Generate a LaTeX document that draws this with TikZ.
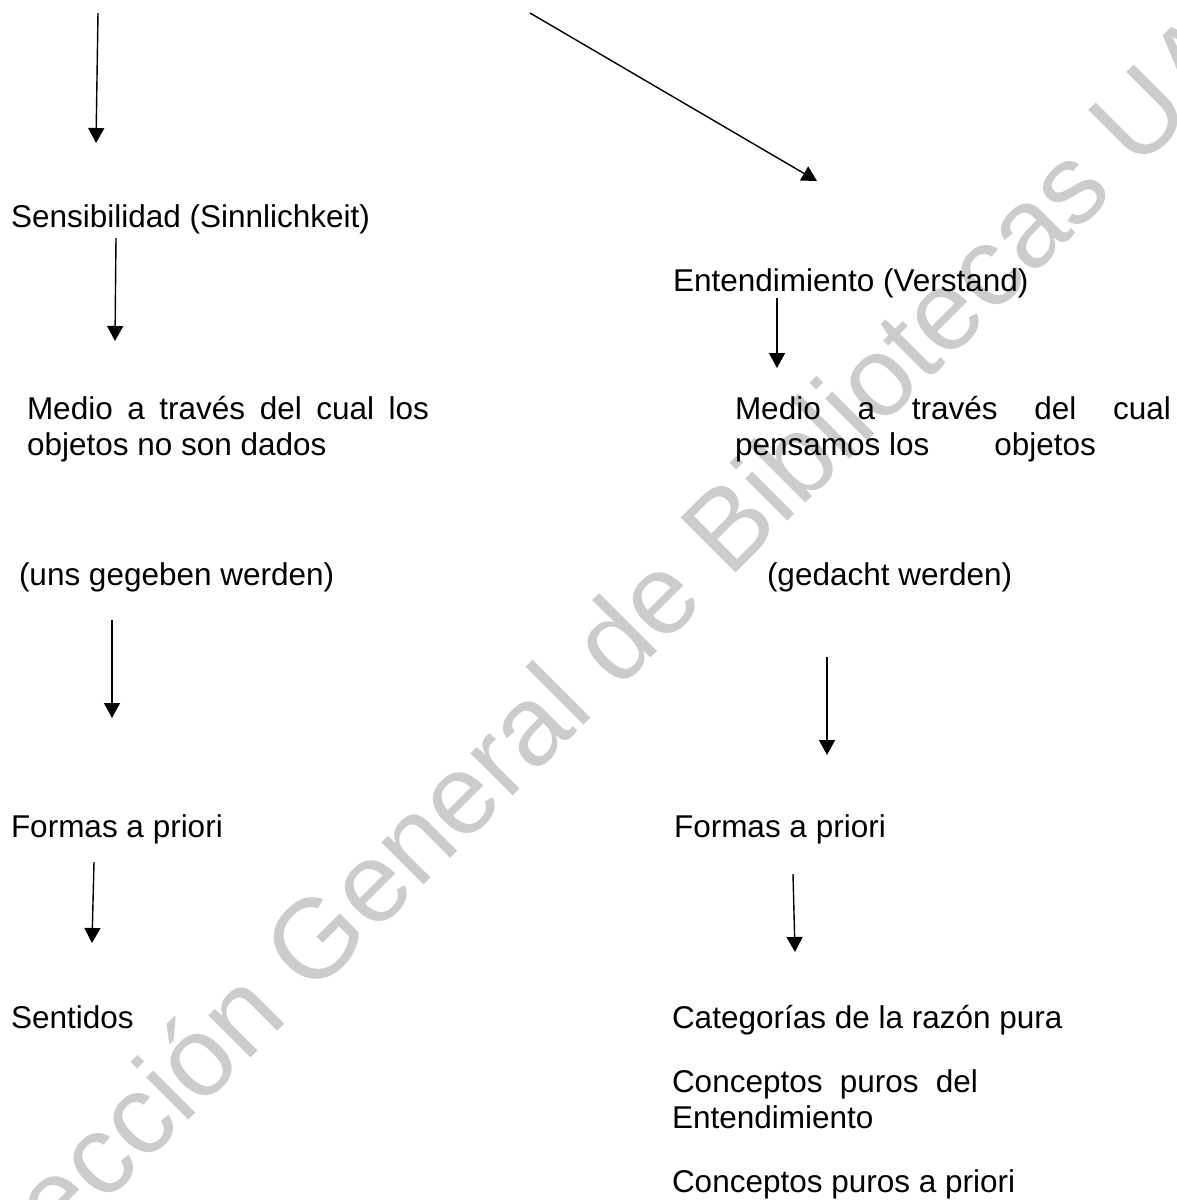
\documentclass[tikz,border=0pt]{standalone}
\usepackage{fontspec}
\setmainfont{Liberation Sans}
\usepackage{tikz}
\usetikzlibrary{arrows.meta}
\definecolor{wmgray}{HTML}{CCCCCC}

\begin{document}
\begin{tikzpicture}[x=0.5pt,y=-0.5pt,
  txt/.style={anchor=base west,inner sep=0pt,outer sep=0pt,
    font=\fontsize{15.75pt}{17.75pt}\selectfont},
  para/.style={txt,align=left},
  flecha/.style={-{Triangle[width=8pt,length=7.5pt]},line width=0.7pt}]
  % page
  \fill[white] (0,0) rectangle (1177,1200);
  \useasboundingbox (0,0) rectangle (1177,1200);
  % watermark
  \begin{scope}
    \clip (0,0) rectangle (1177,1200);
    \node[text=wmgray,rotate=45,anchor=base,inner sep=0pt,
      font=\fontsize{56.5pt}{60pt}\selectfont] (marca) at (603,706)
      {Dirección General de Bibliotecas UA};
  \end{scope}
  % left column (multi-line nodes sit on their last baseline)
  \node[txt] (sens) at (11,227) {Sensibilidad (Sinnlichkeit)};
  \node[para] (medioL) at (27,455)
    {\makebox[201pt][s]{Medio a través del cual los}\\objetos no son dados};
  \node[txt] (unsgeg) at (19,585) {(uns gegeben werden)};
  \node[txt] (formasL) at (11,837) {Formas a priori};
  \node[txt] (sentidos) at (11,1028) {Sentidos};
  % right column
  \node[txt] (entend) at (673,291) {Entendimiento (Verstand)};
  \node[para] (medioR) at (735,455)
    {\makebox[218pt][s]{Medio a través del cual}\\pensamos los\hspace{32.5pt}objetos};
  \node[txt] (gedacht) at (767,585) {(gedacht werden)};
  \node[txt] (formasR) at (674,837) {Formas a priori};
  \node[txt] (categ) at (672,1028) {Categorías de la razón pura};
  \node[para] (concdel) at (672,1128)
    {\makebox[153pt][s]{Conceptos puros del}\\Entendimiento};
  \node[txt] (concapr) at (672,1192) {Conceptos puros a priori};
  % arrows
  \foreach \n/\xa/\ya/\xb/\yb in {1/98/13/96/143, 2/530/13/817/181,
      3/116/238/115/341, 4/777/298/777/368, 5/112/620/112/718,
      6/827/657/827/755, 7/94/862/92/943, 8/793/874/795/952}
  {
    \coordinate (s\n) at (\xa,\ya);
    \coordinate (e\n) at (\xb,\yb);
    \draw[flecha] (s\n) -- (e\n);
  }
\end{tikzpicture}
\end{document}
